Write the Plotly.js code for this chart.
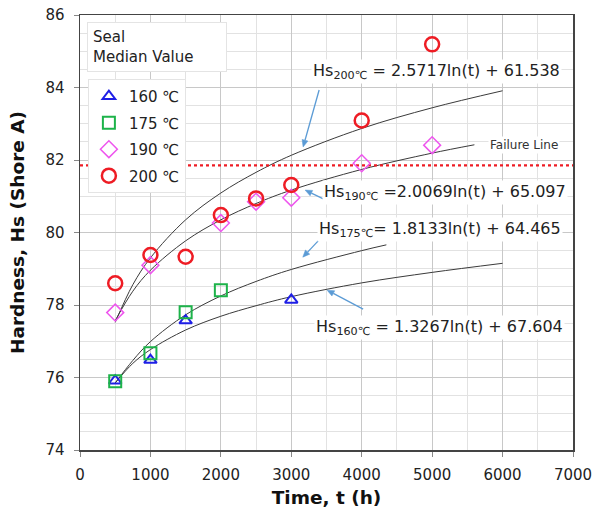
<!DOCTYPE html>
<html>
<head>
<meta charset="utf-8">
<script src="https://cdn.plot.ly/plotly-3.0.1.min.js"></script>
<style>html,body{margin:0;padding:0;background:#fff;}#chart{width:594px;height:512px;}</style>
</head>
<body>
<div id="chart"></div>
<script>
// Measured data (median hardness)
const t160 = [500, 1000, 1500, 3000];
const hs160 = [75.91, 76.48, 77.57, 78.14];
const t175 = [500, 1000, 1500, 2000];
const hs175 = [75.90, 76.67, 77.80, 78.41];
const t190 = [500, 1000, 2000, 2500, 3000, 4000, 5000];
const hs190 = [77.79, 79.10, 80.26, 80.85, 80.96, 81.91, 82.41];
const t200 = [500, 1000, 1500, 2000, 2500, 3000, 4000, 5000];
const hs200 = [78.60, 79.38, 79.33, 80.48, 80.94, 81.31, 83.09, 85.19];

// Trend curves, points
const fitT160 = [500, 750, 1000, 1500, 2000, 2500, 3000, 4000, 5000, 6000];
const fitHs160 = [75.85, 76.39, 76.77, 77.31, 77.69, 77.98, 78.23, 78.61, 78.90, 79.15];
const fitT175 = [500, 750, 1000, 1500, 2000, 2500, 3000, 4000, 4350];
const fitHs175 = [75.85, 76.47, 76.99, 77.73, 78.25, 78.65, 78.98, 79.50, 79.66];
const fitT190 = [500, 750, 1000, 1500, 2000, 2500, 3000, 4000, 5000, 5600];
const fitHs190 = [77.57, 78.38, 78.96, 79.77, 80.35, 80.80, 81.17, 81.74, 82.19, 82.42];
const fitT200 = [500, 750, 1000, 1500, 2000, 2500, 3000, 4000, 5000, 6000];
const fitHs200 = [77.52, 78.56, 79.30, 80.35, 81.09, 81.66, 82.13, 82.87, 83.44, 83.91];

const failureT = [0, 7000];
const failureHs = [81.85, 81.85];

const seriesNames = ['160 ℃', '175 ℃', '190 ℃', '200 ℃'];
const eqTexts = [
  'Hs<sub>160℃</sub> = 1.3267ln(t) + 67.604',
  'Hs<sub>175℃</sub>= 1.8133ln(t) + 64.465',
  'Hs<sub>190℃</sub> =2.0069ln(t) + 65.097',
  'Hs<sub>200℃</sub> = 2.5717ln(t) + 61.538'
];

const FONT = 'DejaVu Sans, Verdana, sans-serif';
function fit(x, y) { return {x: x, y: y, mode: 'lines', line: {color: '#3a3a3a', width: 1, shape: 'spline'}, showlegend: false, hoverinfo: 'skip'}; }

const traces = [
  fit(fitT160, fitHs160), fit(fitT175, fitHs175), fit(fitT190, fitHs190), fit(fitT200, fitHs200),
  {x: failureT, y: failureHs, mode: 'lines', line: {color: '#ee1c24', width: 2.2, dash: 'dot'}, showlegend: false, hoverinfo: 'skip'},
  {x: t160, y: hs160, name: seriesNames[0], mode: 'markers', legendgroup: 'a',
   marker: {symbol: 'triangle-up-open', size: 11, color: '#1f1fe6', line: {width: 2}}},
  {x: t175, y: hs175, name: seriesNames[1], mode: 'markers', legendgroup: 'b',
   marker: {symbol: 'square-open', size: 12, color: '#1db34a', line: {width: 2}}},
  {x: t190, y: hs190, name: seriesNames[2], mode: 'markers', legendgroup: 'c',
   marker: {symbol: 'diamond-open', size: 13, color: '#ee55ee', line: {width: 1.5}}},
  {x: t200, y: hs200, name: seriesNames[3], mode: 'markers', legendgroup: 'd',
   marker: {symbol: 'circle-open', size: 14, color: '#ee1c24', line: {width: 2.5}}}
];

const arrowCol = '#5b9bd5';
function eqAnn(text, x, y) {
  return {text: text, x: x, y: y, xref: 'x', yref: 'y', showarrow: false, bgcolor: '#fff',
          font: {family: FONT, size: 16, color: '#222'}, borderpad: 1};
}
// Arrow drawn as shapes: head at data point (x,y), tail offset (dx right, dy down) in pixels
function arrowShapes(x, y, dx, dy) {
  const L = Math.hypot(dx, dy), ux = -dx / L, uy = dy / L;
  const tx = dx, ty = -dy;
  const hl = 7, hw = 3;
  const bx = -ux * hl, by = -uy * hl;
  const px = -uy * hw, py = ux * hw;
  const common = {xref: 'x', yref: 'y', xsizemode: 'pixel', ysizemode: 'pixel', xanchor: x, yanchor: y, layer: 'above'};
  return [
    Object.assign({type: 'line', x0: tx, y0: ty, x1: bx, y1: by, line: {color: arrowCol, width: 1.3}}, common),
    Object.assign({type: 'path', path: `M 0 0 L ${bx + px} ${by + py} L ${bx - px} ${by - py} Z`,
                   fillcolor: arrowCol, line: {color: arrowCol, width: 0.5}}, common)
  ];
}

const shapes = [].concat(
  arrowShapes(3168, 82.36, 16, -57),
  arrowShapes(3196, 81.17, 25, 12),
  arrowShapes(3163, 79.32, 19, -20),
  arrowShapes(3509, 78.41, 36, 19)
);

const layout = {
  width: 594, height: 512,
  margin: {l: 80, r: 21, t: 15, b: 62},
  paper_bgcolor: '#fff', plot_bgcolor: '#fff',
  font: {family: FONT, size: 15, color: '#222'},
  xaxis: {range: [0, 7000], dtick: 1000, tick0: 0, showgrid: true, gridcolor: '#c8c8c8', gridwidth: 1,
          minor: {dtick: 500, showgrid: true, gridcolor: '#e2e2e2'},
          zeroline: false, showline: true, linecolor: '#444', linewidth: 1.5, mirror: true,
          ticks: 'outside', ticklen: 5, tickcolor: '#888', ticklabelstandoff: 5,
          tickfont: {family: FONT, size: 15, color: '#222'},
          title: {text: 'Time, t (h)', font: {family: FONT, size: 18.5, color: '#111', weight: 'bold'}, standoff: 8}},
  yaxis: {range: [74, 86], dtick: 2, tick0: 74, showgrid: true, gridcolor: '#c8c8c8', gridwidth: 1,
          minor: {dtick: 0.5, showgrid: true, gridcolor: '#e2e2e2'},
          zeroline: false, showline: true, linecolor: '#444', linewidth: 1.5, mirror: true,
          ticks: 'outside', ticklen: 5, tickcolor: '#888', ticklabelstandoff: 6,
          tickfont: {family: FONT, size: 15, color: '#222'},
          title: {text: 'Hardness, Hs (Shore A)', font: {family: FONT, size: 18.5, color: '#111', weight: 'bold'}, standoff: 16}},
  showlegend: true,
  legend: {x: 0.016, y: 0.853, xanchor: 'left', yanchor: 'top', bgcolor: '#fff', bordercolor: '#e4e4e4', borderwidth: 1,
           font: {family: FONT, size: 15, color: '#222'}, traceorder: 'grouped', tracegroupgap: 4,
           itemwidth: 30},
  shapes: shapes,
  annotations: [
    {text: 'Seal<br>Median Value', xref: 'paper', yref: 'paper', x: 0.014, y: 0.984, xanchor: 'left', yanchor: 'top',
     align: 'left', showarrow: false, bgcolor: '#fff', bordercolor: '#e4e4e4', borderwidth: 1, borderpad: 5,
     width: 128, font: {family: FONT, size: 15, color: '#222'}},
    eqAnn(eqTexts[3], 5057, 84.43),
    eqAnn(eqTexts[2], 5185, 81.09),
    eqAnn(eqTexts[1], 5114, 80.07),
    eqAnn(eqTexts[0], 5099, 77.39),
    {text: 'Failure Line', x: 6307, y: 82.41, xref: 'x', yref: 'y', showarrow: false, bgcolor: '#fff',
     font: {family: FONT, size: 12, color: '#333'}}
  ]
};

Plotly.newPlot('chart', traces, layout, {displayModeBar: false, staticPlot: true});
</script>
</body>
</html>
